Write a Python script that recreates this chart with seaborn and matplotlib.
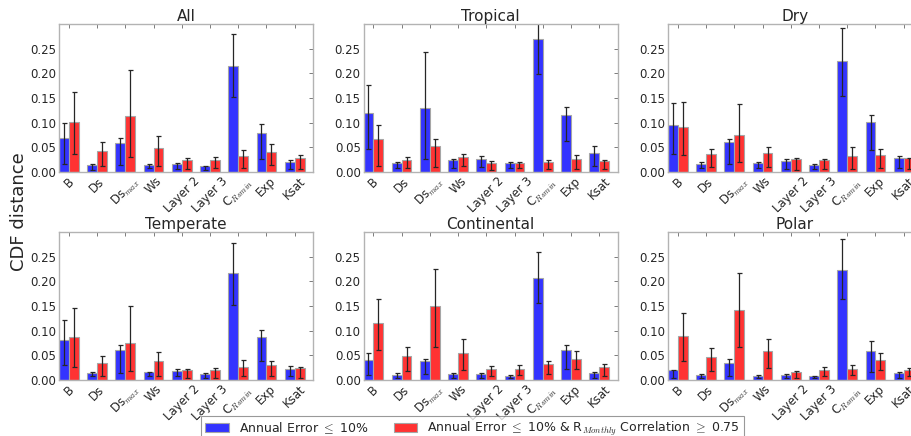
import numpy as np
import pandas as pd
import matplotlib
matplotlib.use("Agg")
import matplotlib.pyplot as plt
import seaborn as sns

# parameters on the x axis
params = ["B", "Ds", "Ds$_{max}$", "Ws", "Layer 2", "Layer 3", "C$_{Rsmin}$", "Exp", "Ksat"]
groups = ["Annual Error $\\leq$ 10%",
          "Annual Error $\\leq$ 10% & R$_{Monthly}$ Correlation $\\geq$ 0.75"]

# bar heights, error bar low ends and high ends
all_blue = [0.068, 0.0135, 0.058, 0.014, 0.016, 0.0115, 0.2155, 0.080, 0.021]
all_blue_lo = [0.016, 0.005, 0.014, 0.008, 0.007, 0.005, 0.152, 0.026, 0.007]
all_blue_hi = [0.099, 0.0155, 0.068, 0.0155, 0.018, 0.013, 0.280, 0.097, 0.024]
all_red = [0.102, 0.043, 0.114, 0.049, 0.025, 0.025, 0.033, 0.041, 0.029]
all_red_lo = [0.036, 0.012, 0.030, 0.012, 0.007, 0.008, 0.008, 0.014, 0.006]
all_red_hi = [0.163, 0.061, 0.207, 0.074, 0.028, 0.030, 0.044, 0.057, 0.034]

trop_blue = [0.120, 0.019, 0.129, 0.024, 0.027, 0.0175, 0.270, 0.1155, 0.039]
trop_blue_lo = [0.047, 0.008, 0.026, 0.008, 0.011, 0.008, 0.199, 0.063, 0.012]
trop_blue_hi = [0.176, 0.020, 0.243, 0.026, 0.032, 0.020, 0.335, 0.132, 0.053]
trop_red = [0.066, 0.024, 0.052, 0.030, 0.019, 0.0175, 0.020, 0.026, 0.023]
trop_red_lo = [0.012, 0.008, 0.010, 0.012, 0.004, 0.008, 0.006, 0.006, 0.006]
trop_red_hi = [0.095, 0.030, 0.067, 0.036, 0.022, 0.020, 0.025, 0.034, 0.0235]

dry_blue = [0.095, 0.017, 0.061, 0.019, 0.0215, 0.015, 0.226, 0.101, 0.028]
dry_blue_lo = [0.036, 0.008, 0.016, 0.008, 0.006, 0.006, 0.154, 0.045, 0.008]
dry_blue_hi = [0.139, 0.020, 0.067, 0.020, 0.026, 0.017, 0.291, 0.116, 0.032]
dry_red = [0.091, 0.037, 0.076, 0.039, 0.026, 0.024, 0.033, 0.035, 0.028]
dry_red_lo = [0.034, 0.010, 0.020, 0.010, 0.005, 0.006, 0.006, 0.008, 0.006]
dry_red_hi = [0.141, 0.047, 0.138, 0.051, 0.028, 0.026, 0.051, 0.047, 0.028]

temp_blue = [0.0815, 0.014, 0.061, 0.016, 0.018, 0.013, 0.217, 0.0875, 0.023]
temp_blue_lo = [0.030, 0.0075, 0.014, 0.0075, 0.0075, 0.005, 0.152, 0.038, 0.0075]
temp_blue_hi = [0.121, 0.0155, 0.071, 0.017, 0.023, 0.0135, 0.278, 0.102, 0.028]
temp_red = [0.0875, 0.035, 0.0755, 0.038, 0.021, 0.021, 0.027, 0.030, 0.0235]
temp_red_lo = [0.026, 0.009, 0.018, 0.0075, 0.0035, 0.005, 0.009, 0.009, 0.0035]
temp_red_hi = [0.145, 0.048, 0.150, 0.056, 0.0215, 0.024, 0.040, 0.038, 0.0255]

cont_blue = [0.040, 0.011, 0.038, 0.0115, 0.0115, 0.009, 0.207, 0.061, 0.015]
cont_blue_lo = [0.011, 0.005, 0.012, 0.005, 0.005, 0.004, 0.156, 0.0215, 0.005]
cont_blue_hi = [0.054, 0.0135, 0.0425, 0.0135, 0.0135, 0.0095, 0.259, 0.071, 0.017]
cont_red = [0.115, 0.048, 0.150, 0.055, 0.023, 0.023, 0.0315, 0.043, 0.026]
cont_red_lo = [0.061, 0.0175, 0.067, 0.0195, 0.0075, 0.0095, 0.012, 0.0215, 0.0075]
cont_red_hi = [0.165, 0.066, 0.226, 0.083, 0.0275, 0.030, 0.038, 0.058, 0.032]

polar_blue = [0.0195, 0.0095, 0.035, 0.009, 0.0095, 0.0075, 0.224, 0.0585, 0.015]
polar_blue_lo = [0.005, 0.004, 0.0075, 0.004, 0.004, 0.004, 0.165, 0.016, 0.005]
polar_blue_hi = [0.020, 0.012, 0.042, 0.011, 0.0115, 0.008, 0.286, 0.079, 0.016]
polar_red = [0.0895, 0.047, 0.142, 0.0585, 0.016, 0.020, 0.023, 0.040, 0.020]
polar_red_lo = [0.038, 0.0175, 0.066, 0.0235, 0.005, 0.0075, 0.0095, 0.0195, 0.0075]
polar_red_hi = [0.1355, 0.0645, 0.216, 0.083, 0.018, 0.026, 0.030, 0.055, 0.0235]

panels = [
    ("All", all_blue, all_blue_lo, all_blue_hi, all_red, all_red_lo, all_red_hi),
    ("Tropical", trop_blue, trop_blue_lo, trop_blue_hi, trop_red, trop_red_lo, trop_red_hi),
    ("Dry", dry_blue, dry_blue_lo, dry_blue_hi, dry_red, dry_red_lo, dry_red_hi),
    ("Temperate", temp_blue, temp_blue_lo, temp_blue_hi, temp_red, temp_red_lo, temp_red_hi),
    ("Continental", cont_blue, cont_blue_lo, cont_blue_hi, cont_red, cont_red_lo, cont_red_hi),
    ("Polar", polar_blue, polar_blue_lo, polar_blue_hi, polar_red, polar_red_lo, polar_red_hi),
]

sns.set_style("white")
plt.rcParams['font.family'] = ['DejaVu Sans']
plt.rcParams['mathtext.fontset'] = 'cm'
plt.rcParams['mathtext.default'] = 'it'

fig = plt.figure(figsize=(9.12, 4.36), dpi=100)
lefts = [0.0647, 0.3986, 0.7325]
bottoms = [0.6055, 0.1284]
w, h = 0.2785, 0.3394

palette = ["#3333ff", "#ff3333"]

for k, (name, b, blo, bhi, r, rlo, rhi) in enumerate(panels):
    ax = fig.add_axes([lefts[k % 3], bottoms[k // 3], w, h])
    df = pd.DataFrame({
        "param": params * 2,
        "group": [groups[0]] * len(params) + [groups[1]] * len(params),
        "value": b + r,
    })
    sns.barplot(data=df, x="param", y="value", hue="group", hue_order=groups,
                order=params, palette=palette, saturation=1, width=0.7,
                edgecolor="0.65", linewidth=0.8, errorbar=None, legend=False, ax=ax)
    for cont, vals, lo, hi in [(ax.containers[0], b, blo, bhi), (ax.containers[1], r, rlo, rhi)]:
        xs = [p.get_x() + p.get_width() / 2 for p in cont]
        v = np.array(vals)
        yerr = [v - np.array(lo), np.array(hi) - v]
        ax.errorbar(xs, v, yerr=yerr, fmt="none", ecolor="0.15", elinewidth=0.9,
                    capsize=1.8, capthick=0.9)
    ax.set_xlim(-0.35, 8.65)
    ax.set_ylim(0, 0.30)
    ax.set_yticks([0, 0.05, 0.10, 0.15, 0.20, 0.25])
    ax.set_yticklabels(["0.00", "0.05", "0.10", "0.15", "0.20", "0.25"], fontsize=8.5)
    ax.set_xticks(range(len(params)))
    ax.set_xticklabels(params, rotation=45, ha="center", fontsize=8.5)
    ax.set_xlabel("")
    ax.set_ylabel("")
    ax.set_title(name, fontsize=11, pad=2)
    ax.tick_params(direction="in", top=True, right=True, length=3, width=0.6,
                   color="0.4", pad=2)
    for s in ax.spines.values():
        s.set_color("0.7")
        s.set_linewidth(1.0)

fig.text(0.021, 0.514, "CDF distance", rotation=90, va="center", ha="center", fontsize=13)

handles = [ax.containers[0], ax.containers[1]]
leg = fig.legend(handles, groups, loc="upper center", bbox_to_anchor=(0.518, 0.046),
                 ncol=2, fontsize=9, frameon=True, fancybox=False, handlelength=1.9,
                 handletextpad=0.8, columnspacing=2.0, borderpad=0.35,
                 borderaxespad=0, edgecolor="0.5")
leg.get_frame().set_linewidth(0.8)

fig.savefig("out.png", dpi=100)
